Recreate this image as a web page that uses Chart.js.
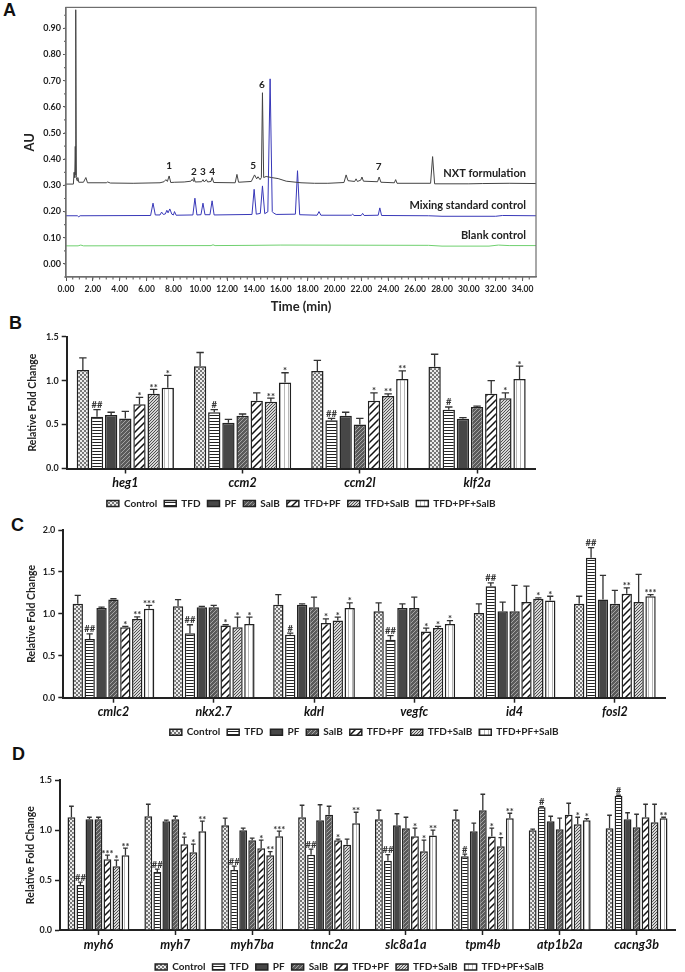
<!DOCTYPE html>
<html>
<head>
<meta charset="utf-8">
<script src="https://cdn.jsdelivr.net/npm/chart.js@4.4.1/dist/chart.umd.min.js"></script>
<style>
html, body { margin: 0; padding: 0; background: #fff; overflow: hidden; width: 685px; height: 972px; }
.panel { position: absolute; left: 0; width: 685px; }
.tag { position: absolute; font: bold 18px "Liberation Sans", Arial, sans-serif; color: #111; }
</style>
</head>
<body>
<div class="tag" style="left:3px;top:0px">A</div>
<div class="tag" style="left:9px;top:313px">B</div>
<div class="tag" style="left:11px;top:515px">C</div>
<div class="tag" style="left:12px;top:744px">D</div>

<div class="panel" style="top:0;height:320px"><canvas id="chart-a"></canvas></div>
<div class="panel" style="top:322px;height:200px"><canvas id="chart-b"></canvas></div>
<div class="panel" style="top:518px;height:232px"><canvas id="chart-c"></canvas></div>
<div class="panel" style="top:768px;height:214px"><canvas id="chart-d"></canvas></div>

<script>
/* ---- Panel A: HPLC traces, read peak by peak (time min, AU) ---- */
const nxtTime = [0, 0.55, 0.6, 0.65, 0.69, 0.71, 0.74, 0.77, 0.82, 0.88, 0.95, 1.3, 1.48, 1.6, 3.0, 3.1, 3.3, 5.0, 7.0, 7.3,
  7.44, 7.55, 7.68, 7.8, 8.1, 8.8, 9.3, 9.4, 9.48, 9.53, 9.62, 10.1, 10.2, 10.3, 10.45, 10.55, 10.8, 10.88, 11.0,
  12.6, 12.73, 12.85, 13.8, 14.04, 14.2, 14.3, 14.45, 14.55, 14.63, 14.72, 14.9, 15.3, 15.8, 16.4, 17.5, 18.5, 19.5,
  20.7, 20.86, 21.0, 21.5, 21.6, 21.7, 21.95, 22.04, 22.15, 23.2, 23.32, 23.45, 24.45, 24.55, 24.65, 27.15, 27.3,
  27.45, 30.0, 31.0, 33.0, 35.0];
const nxtAU = [0.305, 0.305, 0.35, 0.33, 0.449, 0.34, 0.971, 0.33, 0.318, 0.33, 0.312, 0.312, 0.33, 0.31, 0.31, 0.313, 0.309, 0.308, 0.31, 0.314,
  0.322, 0.315, 0.336, 0.311, 0.312, 0.313, 0.316, 0.323, 0.316, 0.33, 0.313, 0.314, 0.322, 0.313, 0.322, 0.313, 0.315, 0.33, 0.311,
  0.31, 0.342, 0.312, 0.315, 0.34, 0.325, 0.333, 0.322, 0.33, 0.654, 0.33, 0.334, 0.33, 0.326, 0.316, 0.31, 0.308, 0.308,
  0.311, 0.34, 0.318, 0.315, 0.325, 0.315, 0.32, 0.332, 0.316, 0.314, 0.332, 0.312, 0.31, 0.322, 0.308, 0.308, 0.41,
  0.306, 0.306, 0.307, 0.308, 0.307];
const mixTime = [0, 0.85, 0.95, 1.05, 6.3, 6.48, 6.65, 7.0, 7.12, 7.25, 7.4, 7.51, 7.6, 7.73, 7.88, 8.0, 8.08, 8.2, 9.45,
  9.6, 9.75, 10.05, 10.2, 10.35, 10.72, 10.88, 11.03, 13.85, 14.01, 14.17, 14.47, 14.63, 14.8, 15.03, 15.2, 15.36,
  15.44, 15.65, 17.08, 17.24, 17.4, 18.7, 18.84, 18.98, 21.25, 21.35, 21.45, 21.98, 22.09, 22.2, 23.25, 23.37, 23.5,
  27.0, 28.0, 32.0, 32.5, 35.0];
const mixAU = [0.184, 0.184, 0.18, 0.184, 0.185, 0.232, 0.187, 0.187, 0.198, 0.189, 0.191, 0.205, 0.195, 0.21, 0.19, 0.187, 0.2, 0.186, 0.187,
  0.251, 0.187, 0.188, 0.232, 0.188, 0.188, 0.241, 0.187, 0.189, 0.285, 0.19, 0.193, 0.298, 0.192, 0.199, 0.707, 0.2,
  0.195, 0.189, 0.19, 0.356, 0.188, 0.186, 0.2, 0.186, 0.186, 0.19, 0.185, 0.185, 0.193, 0.185, 0.186, 0.214, 0.185,
  0.184, 0.182, 0.182, 0.185, 0.184];
const blankTime = [0, 0.9, 1.1, 1.3, 10.8, 10.95, 11.1, 14.0, 16.0, 27.0, 28.0, 31.5, 32.2, 33.0, 35.0];
const blankAU = [0.069, 0.069, 0.072, 0.069, 0.07, 0.073, 0.07, 0.071, 0.072, 0.071, 0.068, 0.068, 0.072, 0.07, 0.07];
const aXTicks = [0, 2, 4, 6, 8, 10, 12, 14, 16, 18, 20, 22, 24, 26, 28, 30, 32, 34];
const aYTicks = [0, 0.1, 0.2, 0.3, 0.4, 0.5, 0.6, 0.7, 0.8, 0.9];
const peakNames = ['1', '2', '3', '4', '5', '6', '7'];
const peakTime = [7.68, 9.53, 10.2, 10.88, 13.94, 14.58, 23.28];
const peakAU = [0.374, 0.353, 0.353, 0.353, 0.374, 0.685, 0.371];
const traceNames = ['NXT formulation', 'Mixing standard control', 'Blank control'];
const traceLabelAU = [0.345, 0.224, 0.11];

/* ---- Panels B-D: relative fold change ---- */
const seriesNames = ['Control', 'TFD', 'PF', 'SalB', 'TFD+PF', 'TFD+SalB', 'TFD+PF+SalB'];

const bGenes = ['heg1', 'ccm2', 'ccm2l', 'klf2a'];
const bControl = [1.12, 1.165, 1.11, 1.157];
const bTFD = [0.59, 0.64, 0.55, 0.67];
const bPF = [0.61, 0.52, 0.60, 0.566];
const bSalB = [0.57, 0.60, 0.50, 0.70];
const bTFDPF = [0.73, 0.77, 0.77, 0.85];
const bTFDSalB = [0.85, 0.76, 0.825, 0.80];
const bAll = [0.92, 0.98, 1.02, 1.02];
const bControlHi = [1.26, 1.32, 1.23, 1.30];
const bTFDHi = [0.67, 0.67, 0.57, 0.70];
const bPFHi = [0.64, 0.56, 0.64, 0.58];
const bSalBHi = [0.65, 0.62, 0.57, 0.71];
const bTFDPFHi = [0.81, 0.86, 0.86, 1.00];
const bTFDSalBHi = [0.90, 0.80, 0.85, 0.86];
const bAllHi = [1.06, 1.09, 1.11, 1.165];
const bTFDMark = ['##', '#', '##', '#'];
const bTFDPFMark = ['*', '', '*', ''];
const bTFDSalBMark = ['**', '**', '**', '*'];
const bAllMark = ['*', '*', '**', '*'];

const cGenes = ['cmlc2', 'nkx2.7', 'kdrl', 'vegfc', 'id4', 'fosl2'];
const cControl = [1.12, 1.09, 1.11, 1.03, 1.01, 1.12];
const cTFD = [0.70, 0.77, 0.75, 0.69, 1.33, 1.67];
const cPF = [1.07, 1.08, 1.11, 1.07, 1.03, 1.17];
const cSalB = [1.17, 1.08, 1.08, 1.07, 1.03, 1.12];
const cTFDPF = [0.84, 0.86, 0.89, 0.79, 1.14, 1.24];
const cTFDSalB = [0.94, 0.84, 0.92, 0.83, 1.18, 1.14];
const cAll = [1.06, 0.88, 1.07, 0.88, 1.16, 1.21];
const cControlHi = [1.22, 1.17, 1.23, 1.13, 1.12, 1.21];
const cTFDHi = [0.76, 0.87, 0.77, 0.74, 1.37, 1.79];
const cPFHi = [1.08, 1.09, 1.12, 1.12, 1.14, 1.46];
const cSalBHi = [1.18, 1.10, 1.20, 1.20, 1.34, 1.28];
const cTFDPFHi = [0.85, 0.87, 0.94, 0.83, 1.33, 1.31];
const cTFDSalBHi = [0.965, 0.96, 0.96, 0.85, 1.19, 1.47];
const cAllHi = [1.10, 0.96, 1.13, 0.92, 1.21, 1.23];
const cTFDMark = ['##', '##', '#', '##', '##', '##'];
const cTFDPFMark = ['*', '*', '*', '*', '', '**'];
const cTFDSalBMark = ['**', '*', '*', '*', '*', ''];
const cAllMark = ['***', '*', '*', '*', '*', '***'];

const dGenes = ['myh6', 'myh7', 'myh7ba', 'tnnc2a', 'slc8a1a', 'tpm4b', 'atp1b2a', 'cacng3b'];
const dControl = [1.13, 1.14, 1.05, 1.13, 1.11, 1.11, 1.00, 1.02];
const dTFD = [0.45, 0.58, 0.60, 0.755, 0.695, 0.74, 1.23, 1.345];
const dPF = [1.11, 1.09, 1.00, 1.10, 1.05, 0.99, 1.09, 1.11];
const dSalB = [1.11, 1.11, 0.90, 1.155, 1.02, 1.20, 1.01, 1.03];
const dTFDPF = [0.71, 0.86, 0.82, 0.90, 0.94, 0.936, 1.155, 1.13];
const dTFDSalB = [0.64, 0.78, 0.75, 0.855, 0.79, 0.84, 1.06, 1.08];
const dAll = [0.75, 0.99, 0.94, 1.07, 0.946, 1.12, 1.10, 1.12];
const dControlHi = [1.24, 1.26, 1.12, 1.25, 1.20, 1.20, 1.01, 1.15];
const dTFDHi = [0.48, 0.61, 0.64, 0.81, 0.755, 0.76, 1.235, 1.35];
const dPFHi = [1.13, 1.10, 1.02, 1.255, 1.165, 1.07, 1.14, 1.175];
const dSalBHi = [1.13, 1.14, 0.92, 1.24, 1.13, 1.36, 1.12, 1.16];
const dTFDPFHi = [0.75, 0.93, 0.90, 0.91, 1.02, 1.02, 1.27, 1.26];
const dTFDSalBHi = [0.70, 0.86, 0.785, 0.91, 0.90, 0.926, 1.13, 1.26];
const dAllHi = [0.82, 1.09, 0.99, 1.18, 1.00, 1.17, 1.115, 1.13];
const dTFDMark = ['##', '##', '##', '##', '##', '#', '#', '#'];
const dTFDPFMark = ['***', '*', '*', '*', '*', '*', '', ''];
const dTFDSalBMark = ['*', '*', '**', '', '*', '*', '*', ''];
const dAllMark = ['**', '**', '***', '**', '**', '**', '*', '**'];

const barTicksB = [0, 0.5, 1.0, 1.5];
const barTicksC = [0, 0.5, 1.0, 1.5, 2.0];

Chart.defaults.font.family = 'Lato, "Open Sans", sans-serif';
Chart.defaults.color = '#222';

// --- fill patterns, one per treatment ---
function makePattern(kind) {
    const c = document.createElement('canvas');
    const g = c.getContext('2d');
    if (kind === 'check') {
        c.width = c.height = 4;
        g.fillStyle = '#ececec'; g.fillRect(0, 0, 4, 4);
        g.fillStyle = '#777'; g.fillRect(0, 0, 2, 2); g.fillRect(2, 2, 2, 2);
    } else if (kind === 'hlines') {
        c.width = 4; c.height = 3;
        g.fillStyle = '#fff'; g.fillRect(0, 0, 4, 3);
        g.fillStyle = '#222'; g.fillRect(0, 0, 4, 1);
    } else if (kind === 'solid') {
        c.width = c.height = 2;
        g.fillStyle = '#474747'; g.fillRect(0, 0, 2, 2);
    } else if (kind === 'darkhatch') {
        c.width = c.height = 4;
        g.fillStyle = '#5a5a5a'; g.fillRect(0, 0, 4, 4);
        g.fillStyle = '#a4a4a4';
        for (let i = 0; i < 4; i++) g.fillRect(i, 3 - i, 1, 1);
    } else if (kind === 'wideslash') {
        c.width = c.height = 7;
        g.fillStyle = '#fff'; g.fillRect(0, 0, 7, 7);
        g.strokeStyle = '#111'; g.lineWidth = 1.5;
        g.beginPath();
        g.moveTo(-1, 8); g.lineTo(8, -1);
        g.moveTo(-1, 1); g.lineTo(1, -1);
        g.moveTo(6, 8); g.lineTo(8, 6);
        g.stroke();
    } else if (kind === 'fineslash') {
        c.width = c.height = 3;
        g.fillStyle = '#d6d6d6'; g.fillRect(0, 0, 3, 3);
        g.fillStyle = '#505050';
        for (let i = 0; i < 3; i++) g.fillRect(i, 2 - i, 1, 1);
    } else if (kind === 'vlines') {
        c.width = 4; c.height = 2;
        g.fillStyle = '#fff'; g.fillRect(0, 0, 4, 2);
        g.fillStyle = '#b8b8b8'; g.fillRect(0, 0, 1, 2);
    }
    return g.createPattern(c, 'repeat');
}

const fills = ['check', 'hlines', 'solid', 'darkhatch', 'wideslash', 'fineslash', 'vlines'].map(makePattern);

// --- upward error bars and significance marks ---
const errorBars = {
    id: 'errorBars',
    afterDatasetsDraw(chart) {
        const { ctx } = chart;
        const y = chart.scales.y;
        ctx.save();
        chart.data.datasets.forEach((ds, i) => {
            chart.getDatasetMeta(i).data.forEach((bar, j) => {
                const top = y.getPixelForValue(ds.hi[j]);
                const cap = bar.width * 0.3;
                ctx.strokeStyle = '#333';
                ctx.lineWidth = 1.3;
                ctx.beginPath();
                ctx.moveTo(bar.x, bar.y);
                ctx.lineTo(bar.x, top);
                ctx.moveTo(bar.x - cap, top);
                ctx.lineTo(bar.x + cap, top);
                ctx.stroke();
                const m = ds.marks ? ds.marks[j] : '';
                if (m) {
                    ctx.fillStyle = '#333';
                    ctx.font = 'bold 9.5px Lato, sans-serif';
                    ctx.textAlign = 'center';
                    ctx.textBaseline = 'alphabetic';
                    ctx.fillText(m, bar.x, top - 1.5 + (m[0] === '*' ? 3 : 0));
                }
            });
        });
        ctx.restore();
    }
};

function barChart(id, genes, sets, cfg) {
    return new Chart(document.getElementById(id), {
        type: 'bar',
        data: {
            labels: genes,
            datasets: sets.map((s, i) => ({
                label: seriesNames[i],
                data: s[0],
                hi: s[1],
                marks: s[2],
                backgroundColor: fills[i],
                borderColor: '#222',
                borderWidth: 1.5,
                categoryPercentage: cfg.cat,
                barPercentage: 0.87
            }))
        },
        options: {
            responsive: true,
            maintainAspectRatio: false,
            animation: false,
            layout: { padding: cfg.pad },
            plugins: {
                tooltip: { enabled: false },
                legend: {
                    position: 'bottom',
                    fullSize: cfg.fullLegend,
                    labels: {
                        boxWidth: 12, boxHeight: 6, padding: 7, color: '#222',
                        font: { size: 10, weight: 'bold' }
                    }
                }
            },
            scales: {
                x: {
                    grid: { drawOnChartArea: false, offset: false, tickLength: 5, tickColor: '#222', tickWidth: 1.5 },
                    border: { color: '#222', width: 2 },
                    ticks: { color: '#111', padding: 2, font: { size: 12.5, weight: 'bold', style: 'italic' } },
                    afterFit: s => { s.height = cfg.xh; }
                },
                y: {
                    min: 0,
                    max: cfg.max,
                    afterBuildTicks: s => { s.ticks = cfg.ticks.map(v => ({ value: v })); },
                    grid: { drawOnChartArea: false, tickLength: 5, tickColor: '#222', tickWidth: 1.5 },
                    border: { color: '#222', width: 2 },
                    ticks: { color: '#222', padding: 3, font: { size: 9, weight: 'bold' }, callback: v => v.toFixed(1) },
                    title: {
                        display: true, text: 'Relative Fold Change', color: '#222',
                        padding: 0, font: { size: 10.5, weight: 'bold' }
                    },
                    afterFit: s => { s.width = cfg.yw; }
                }
            }
        },
        plugins: [errorBars]
    });
}

// --- Panel A ---
const chromaDecor = {
    id: 'chromaDecor',
    afterDraw(chart) {
        const { ctx, chartArea: a } = chart;
        const x = chart.scales.x, y = chart.scales.y;
        ctx.save();
        ctx.strokeStyle = '#6e6e6e';
        ctx.lineWidth = 1.2;
        ctx.strokeRect(a.left, a.top, a.right - a.left, a.bottom - a.top);
        // minor ticks
        ctx.beginPath();
        for (let t = 0.5; t < 35; t += 0.5) {
            const px = x.getPixelForValue(t);
            ctx.moveTo(px, a.bottom); ctx.lineTo(px, a.bottom + 2.5);
        }
        for (let v = -0.05; v < 0.98; v += 0.05) {
            const py = y.getPixelForValue(v);
            ctx.moveTo(a.left, py); ctx.lineTo(a.left - 2, py);
        }
        ctx.stroke();
        ctx.fillStyle = '#222';
        ctx.textAlign = 'center';
        ctx.textBaseline = 'middle';
        ctx.font = 'bold 10px Lato, sans-serif';
        peakNames.forEach((n, i) => {
            ctx.fillText(n, x.getPixelForValue(peakTime[i]), y.getPixelForValue(peakAU[i]));
        });
        ctx.textAlign = 'right';
        ctx.font = 'bold 11px Lato, sans-serif';
        traceNames.forEach((n, i) => {
            ctx.fillText(n, x.getPixelForValue(34.25), y.getPixelForValue(traceLabelAU[i]));
        });
        ctx.restore();
    }
};

function pts(ts, vs) { return ts.map((t, i) => ({ x: t, y: vs[i] })); }

new Chart(document.getElementById('chart-a'), {
    type: 'line',
    data: {
        datasets: [
            { label: traceNames[0], data: pts(nxtTime, nxtAU), borderColor: '#444', borderWidth: 1, pointRadius: 0 },
            { label: traceNames[1], data: pts(mixTime, mixAU), borderColor: '#3838b8', borderWidth: 1, pointRadius: 0 },
            { label: traceNames[2], data: pts(blankTime, blankAU), borderColor: '#6fd06f', borderWidth: 1, pointRadius: 0 }
        ]
    },
    options: {
        responsive: true,
        maintainAspectRatio: false,
        animation: false,
        layout: { padding: { top: 3, left: 22, right: 149, bottom: 0 } },
        plugins: { legend: { display: false }, tooltip: { enabled: false } },
        scales: {
            x: {
                type: 'linear', min: 0, max: 35,
                afterBuildTicks: s => { s.ticks = aXTicks.map(v => ({ value: v })); },
                grid: { drawOnChartArea: false, tickLength: 4, tickColor: '#555' },
                border: { color: '#6e6e6e', width: 1.2 },
                ticks: { autoSkip: false, maxRotation: 0, padding: 3, color: '#222', font: { size: 8.5, weight: 'bold' }, callback: v => v.toFixed(2) },
                title: { display: true, text: 'Time (min)', color: '#222', padding: { top: 0, bottom: 5 }, font: { size: 13, weight: 'bold' } },
                afterFit: s => { s.height = 43; }
            },
            y: {
                min: -0.05, max: 0.98,
                afterBuildTicks: s => { s.ticks = aYTicks.map(v => ({ value: v })); },
                grid: { drawOnChartArea: false, tickLength: 3, tickColor: '#555' },
                border: { color: '#6e6e6e', width: 1.2 },
                ticks: { padding: 2, color: '#222', font: { size: 9, weight: 'bold' }, callback: v => v.toFixed(2) },
                title: { display: true, text: 'AU', color: '#222', padding: 0, font: { size: 13, weight: 'bold' } },
                afterFit: s => { s.width = 44; }
            }
        }
    },
    plugins: [chromaDecor]
});

// --- Panels B, C, D ---
barChart('chart-b', bGenes, [
    [bControl, bControlHi, null], [bTFD, bTFDHi, bTFDMark], [bPF, bPFHi, null], [bSalB, bSalBHi, null],
    [bTFDPF, bTFDPFHi, bTFDPFMark], [bTFDSalB, bTFDSalBHi, bTFDSalBMark], [bAll, bAllHi, bAllMark]
], { cat: 0.845, max: 1.5, ticks: barTicksB, yw: 40.7, xh: 23, fullLegend: false,
     pad: { top: 14.7, left: 26, right: 149.3, bottom: 3.5 } });

barChart('chart-c', cGenes, [
    [cControl, cControlHi, null], [cTFD, cTFDHi, cTFDMark], [cPF, cPFHi, null], [cSalB, cSalBHi, null],
    [cTFDPF, cTFDPFHi, cTFDPFMark], [cTFDSalB, cTFDSalBHi, cTFDSalBMark], [cAll, cAllHi, cAllMark]
], { cat: 0.83, max: 2.0, ticks: barTicksC, yw: 38.3, xh: 22.5, fullLegend: false,
     pad: { top: 12, left: 25, right: 20, bottom: 2.8 } });

barChart('chart-d', dGenes, [
    [dControl, dControlHi, null], [dTFD, dTFDHi, dTFDMark], [dPF, dPFHi, null], [dSalB, dSalBHi, null],
    [dTFDPF, dTFDPFHi, dTFDPFMark], [dTFDSalB, dTFDSalBHi, dTFDSalBMark], [dAll, dAllHi, dAllMark]
], { cat: 0.82, max: 1.5, ticks: barTicksB, yw: 36, xh: 25, fullLegend: true,
     pad: { top: 12.3, left: 24, right: 10, bottom: 0 } });
</script>
</body>
</html>
